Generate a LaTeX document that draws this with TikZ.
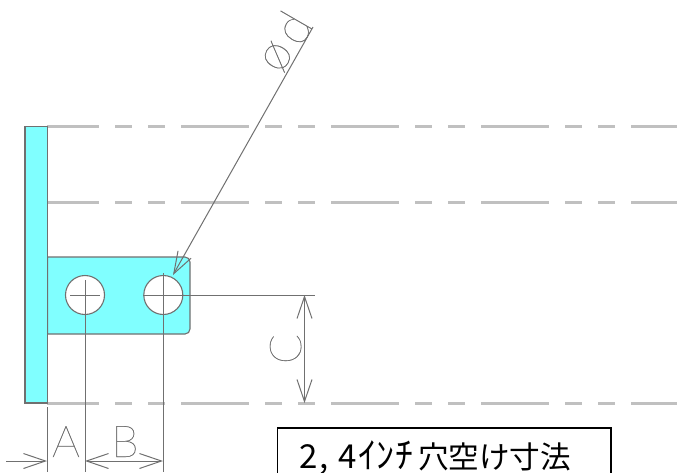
\documentclass[tikz,border=0pt]{standalone}
\usepackage{fontspec}
\usetikzlibrary{arrows.meta}
\newfontfamily\jpfont{Noto Sans CJK JP}
\newfontfamily\cadfont[FakeBold=0.4]{Lato Hairline}
\definecolor{cadcyan}{HTML}{80FFFF}
\definecolor{cadgray}{HTML}{707070}
\definecolor{cadlight}{HTML}{C0C0C0}
\tikzset{
  x=1pt,y=-1pt,
  part/.style={fill=cadcyan,draw=cadgray,line width=1.1pt},
  hole/.style={circle,fill=white,draw=cadgray,line width=1.1pt,minimum size=39pt,inner sep=0pt},
  thinline/.style={draw=cadgray,line width=1pt},
  phantomline/.style={draw=cadlight,line width=2.2pt,dash pattern=on 68pt off 16pt on 17pt off 16pt on 17pt off 16pt,dash phase=16pt},
  dimarrow/.style={thinline,arrows={Straight Barb[length=22pt,width=15pt,line width=1pt]-Straight Barb[length=22pt,width=15pt,line width=1pt]}},
  dimtip/.style={thinline,arrows={-Straight Barb[length=22pt,width=15pt,line width=1pt]}},
  cadtext/.style={text=cadgray,inner sep=0pt,font=\cadfont\fontsize{44}{44}\selectfont},
  cadlarge/.style={cadtext,font=\cadfont\fontsize{50}{50}\selectfont},
}
\begin{document}
\begin{tikzpicture}
\useasboundingbox (0,0) rectangle (677,472);
\clip (0,0) rectangle (677,472);
\fill[white] (0,0) rectangle (677,472);
% phantom lines
\draw[phantomline] (47,126.5) -- (677,126.5);
\draw[phantomline] (47,202.5) -- (677,202.5);
\draw[phantomline] (47,403.5) -- (677,403.5);
% parts
\draw[part] (47.5,257) -- (185,257) arc[start angle=-90,end angle=0,radius=5] -- (190,329) arc[start angle=0,end angle=90,radius=5] -- (47.5,334) -- cycle;
\draw[part] (25,126.5) rectangle (47.5,403);
\node[hole] (h1) at (85,295) {};
\node[hole] (h2) at (163.3,295) {};
% named points
\coordinate (c1a) at (70,295); \coordinate (c1b) at (100,295);
\coordinate (c2a) at (143,295); \coordinate (c2b) at (315,295);
\coordinate (e0a) at (47.5,407); \coordinate (e0b) at (47.5,472);
\coordinate (e1a) at (85,280); \coordinate (e1b) at (85,472);
\coordinate (e2a) at (163,273); \coordinate (e2b) at (163,472);
\coordinate (cu) at (304.5,295); \coordinate (cd) at (304.5,403);
\coordinate (al) at (6,461); \coordinate (ar) at (47,461);
\coordinate (bl) at (85,461); \coordinate (br) at (163,461);
\coordinate (ltip) at (173,275); \coordinate (lend) at (313,27);
% lines
\draw[thinline] (c1a) -- (c1b);
\draw[thinline] (c2a) -- (c2b);
\draw[thinline] (e0a) -- (e0b);
\draw[thinline] (e1a) -- (e1b);
\draw[thinline] (e2a) -- (e2b);
\draw[dimarrow] (cu) -- (cd);
\draw[dimtip] (al) -- (ar);
\draw[dimarrow] (bl) -- (br);
\draw[dimtip] (lend) -- (ltip);
% labels
\node[cadtext,anchor=base] (la) at (66,457) {A};
\node[cadtext,anchor=base] (lb) at (125,457) {B};
\node[cadtext,anchor=base,rotate=90] (lc) at (301,349) {C};
\node[cadlarge,anchor=base,rotate=60] (lp) at (288,63) {ø};
\node[cadlarge,anchor=base,rotate=60] (ld) at (307.5,36.5) {d};
% caption
\draw[black,line width=1.6pt] (277.5,490) -- (277.5,428) -- (611,428) -- (611,490);
\node[anchor=base west,inner sep=0pt,font=\jpfont\fontsize{30.6}{31}\selectfont] (cap) at (299,468.5)
  {\fontsize{33}{33}\selectfont 2\hspace{2pt},\hspace{10pt}4\hspace{1pt}\fontsize{36}{36}\selectfont ｲ\hspace{1pt}ﾝ\hspace{1pt}ﾁ\hspace{4pt}\fontsize{30.6}{31}\selectfont 穴空け寸法};
\end{tikzpicture}
\end{document}
